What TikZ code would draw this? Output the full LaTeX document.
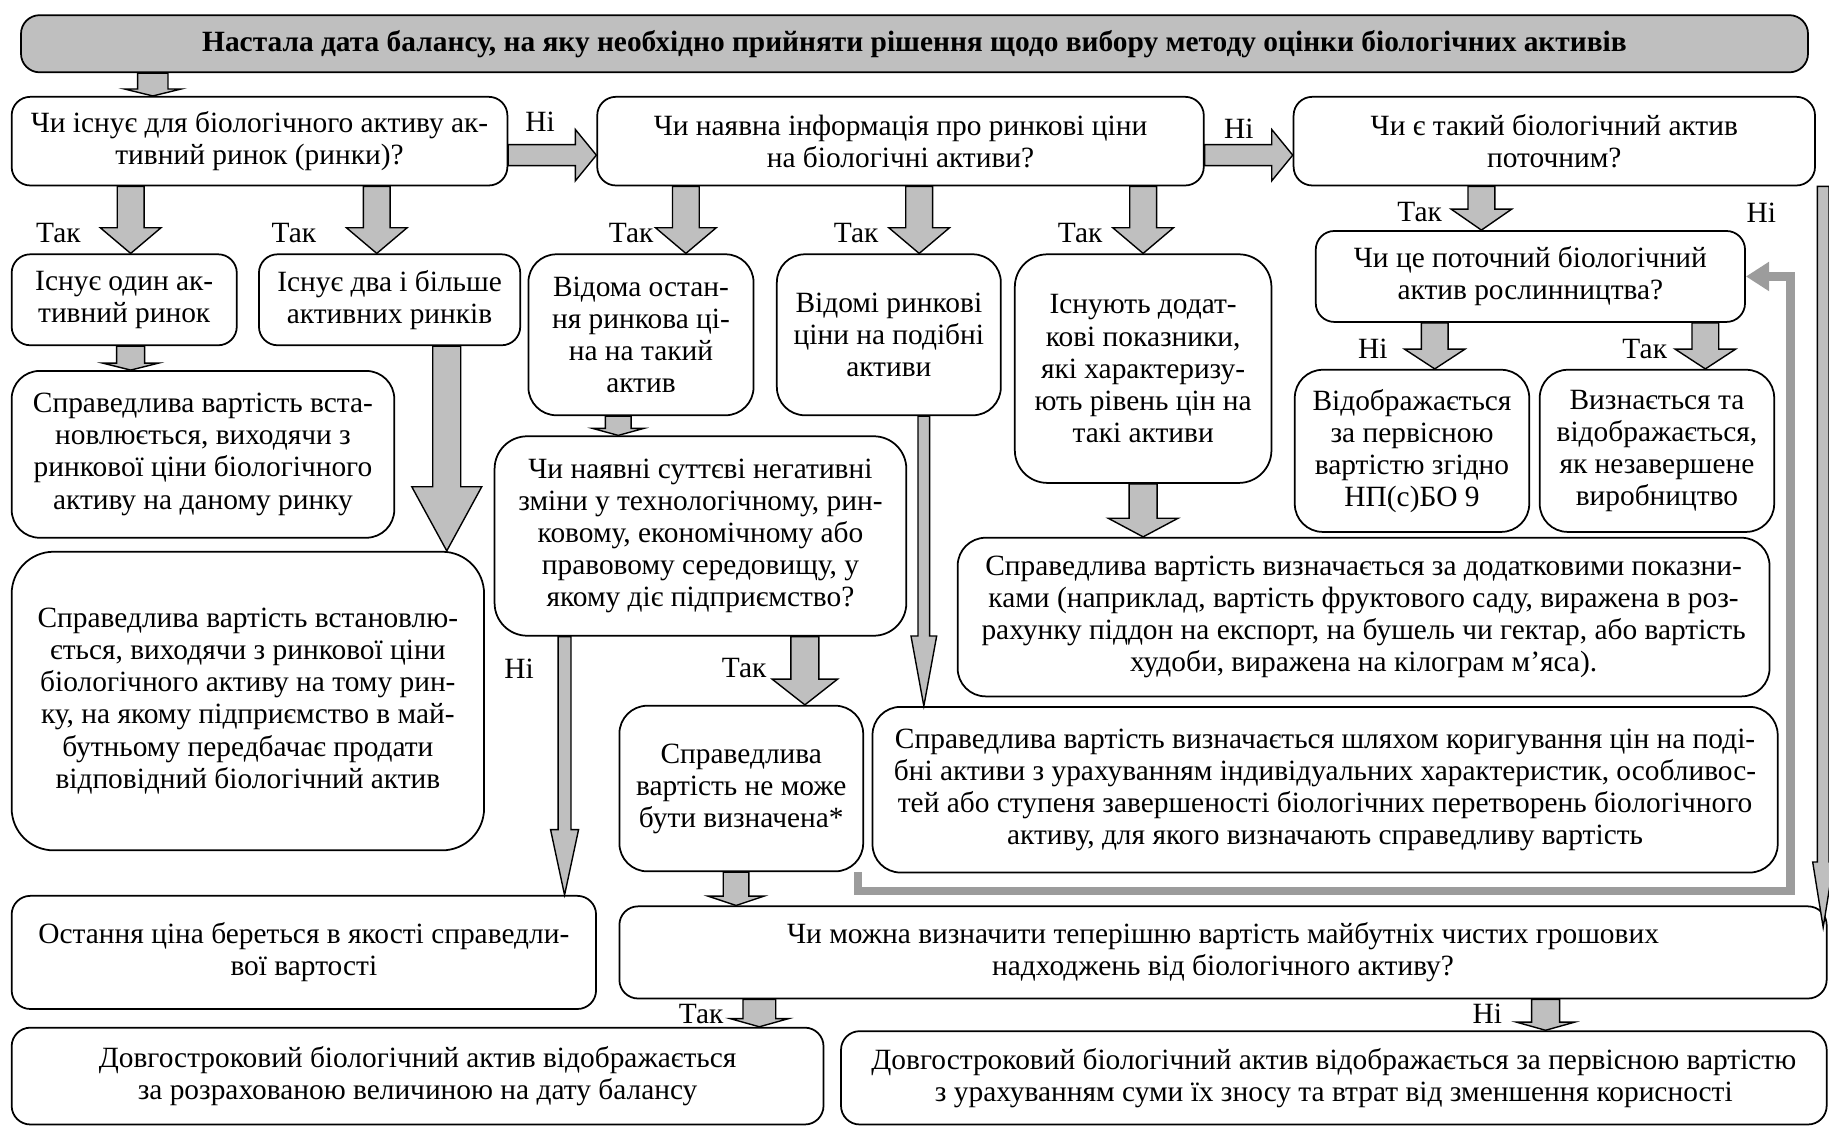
\documentclass[tikz,border=0pt]{standalone}
\usepackage{fontspec}
\setmainfont{Liberation Serif}
\usetikzlibrary{calc,arrows.meta}
\definecolor{BAGray}{HTML}{BFBFBF}
\definecolor{BALoop}{HTML}{9C9C9C}

\newcommand{\blkdn}[5]{%
  \filldraw[blk] let \p1=#1, \p2=#2 in
    (\x1-#3,\y1) -- (\x1-#3,\y2+#5) -- (\x1-#4,\y2+#5) -- (\x1,\y2)
    -- (\x1+#4,\y2+#5) -- (\x1+#3,\y2+#5) -- (\x1+#3,\y1) -- cycle;}
\newcommand{\blkrt}[5]{%
  \filldraw[blk] let \p1=#1, \p2=#2 in
    (\x1,\y1+#3) -- (\x2-#5,\y1+#3) -- (\x2-#5,\y1+#4) -- (\x2,\y1)
    -- (\x2-#5,\y1-#4) -- (\x2-#5,\y1-#3) -- (\x1,\y1-#3) -- cycle;}

\begin{document}
\begin{tikzpicture}[x=0.5pt,y=-0.5pt,
  chbox/.style={draw, line width=0.75pt, rounded corners=8pt, fill=white, align=center,
    inner sep=0pt, font=\fontsize{12.6}{13.75}\selectfont},
  wh/.style 2 args={minimum width=#1*0.5pt, minimum height=#2*0.5pt},
  blk/.style={fill=BAGray, draw=black, line width=0.6pt},
  lbl/.style={font=\fontsize{12.6}{13.75}\selectfont, inner sep=0pt},
  loopln/.style={draw=BALoop, line width=3.5pt, -{Triangle[width=12pt,length=10pt]}}]
\useasboundingbox (0,0) rectangle (1568,965);

\node[chbox, wh={1532}{49}, fill=BAGray, font=\fontsize{12.6}{13.75}\selectfont\bfseries] (title) at (784,37.5)
  {Настала дата балансу, на яку необхідно прийняти рішення щодо вибору методу оцінки біологічних активів};
\node[chbox, wh={425}{76}] (q1) at (222.5,121) {Чи існує для біологічного активу ак-\\тивний ринок (ринки)?};
\node[chbox, wh={520}{76}] (q2) at (772,121) {Чи наявна інформація про ринкові ціни\\на біологічні активи?};
\node[chbox, wh={447}{76}] (q3) at (1332.5,121) {Чи є такий біологічний актив\\поточним?};
\node[chbox, wh={193}{78}] (b1) at (106.5,257) {Існує один ак-\\тивний ринок};
\node[chbox, wh={224}{78}] (b2) at (334,257) {Існує два і більше\\активних ринків};
\node[chbox, wh={193}{138}, rounded corners=12pt] (b3) at (549.5,287) {Відома остан-\\ня ринкова ці-\\на на такий\\актив};
\node[chbox, wh={192}{138}, rounded corners=12pt] (b4) at (762,287) {Відомі ринкові\\ціни на подібні\\активи};
\node[chbox, wh={220}{196}, rounded corners=14pt] (b5) at (980,316) {Існують додат-\\кові показники,\\які характеризу-\\ють рівень цін на\\такі активи};
\node[chbox, wh={368}{78}] (q4) at (1312,237) {Чи це поточний біологічний\\актив рослинництва?};
\node[chbox, wh={201}{139}, rounded corners=12pt] (b6) at (1210.5,386.5) {Відображається\\за первісною\\вартістю згідно\\НП(с)БО 9};
\node[chbox, wh={201}{139}, rounded corners=12pt] (b7) at (1420.5,386.5) {Визнається та\\відображається,\\як незавершене\\виробництво};
\node[chbox, wh={328}{143}, rounded corners=12pt] (b8) at (174,389.5) {Справедлива вартість вста-\\новлюється, виходячи з\\ринкової ціни біологічного\\активу на даному ринку};
\node[chbox, wh={405}{256}, rounded corners=18pt] (b9) at (212.5,601) {Справедлива вартість встановлю-\\ється, виходячи з ринкової ціни\\біологічного активу на тому рин-\\ку, на якому підприємство в май-\\бутньому передбачає продати\\відповідний біологічний актив};
\node[chbox, wh={353}{171}, rounded corners=14pt] (q5) at (600.5,459.5) {Чи наявні суттєві негативні\\зміни у технологічному, рин-\\ковому, економічному або\\правовому середовищу, у\\якому діє підприємство?};
\node[chbox, wh={696}{136}, rounded corners=12pt] (b10) at (1169,529) {Справедлива вартість визначається за додатковими показни-\\ками (наприклад, вартість фруктового саду, виражена в роз-\\рахунку піддон на експорт, на бушель чи гектар, або вартість\\худоби, виражена на кілограм м’яса).};
\node[chbox, wh={209}{142}, rounded corners=12pt] (b11) at (635.5,676) {Справедлива\\вартість не може\\бути визначена*};
\node[chbox, wh={776}{142}, rounded corners=12pt] (b12) at (1136,677) {Справедлива вартість визначається шляхом коригування цін на поді-\\бні активи з урахуванням індивідуальних характеристик, особливос-\\тей або ступеня завершеності біологічних перетворень біологічного\\активу, для якого визначають справедливу вартість};
\node[chbox, wh={501}{97}] (b13) at (260.5,816.5) {Остання ціна береться в якості справедли-\\вої вартості};
\node[chbox, wh={1035}{79}] (q6) at (1048.5,816.5) {Чи можна визначити теперішню вартість майбутніх чистих грошових\\надходжень від біологічного активу?};
\node[chbox, wh={696}{83}] (b14) at (358,922.5) {Довгостроковий біологічний актив відображається\\за розрахованою величиною на дату балансу};
\node[chbox, wh={845}{80}] (b15) at (1143.5,924) {Довгостроковий біологічний актив відображається за первісною вартістю\\з урахуванням суми їх зносу та втрат від зменшення корисності};

\foreach \n/\x in {t0/131, k1/112, k2/323, k2b/383, k3/588, k3b/530, k4/788, k4b/792, k5/980,
  k6/1270, k7/1230, k8/1462, k9/484, k10/690, k11/631, k12/651, k13/1325, k14/1563}
  \coordinate (\n) at (\x,0);
\coordinate (r1) at (0,133);
\coordinate (rtip) at (1563,795);
\coordinate (lpc) at (1535,764);

\blkdn{(title.south -| t0)}{(q1.north -| t0)}{6.5pt}{12.25pt}{3pt}
\blkrt{(q1.east |- r1)}{(q2.west |- r1)}{4.5pt}{11pt}{9pt}
\blkrt{(q2.east |- r1)}{(q3.west |- r1)}{4.5pt}{11pt}{9pt}
\blkdn{(q1.south -| k1)}{(b1.north -| k1)}{5.75pt}{13pt}{11pt}
\blkdn{(q1.south -| k2)}{(b2.north -| k2)}{5.75pt}{13pt}{11pt}
\blkdn{(q2.south -| k3)}{(b3.north -| k3)}{5.75pt}{13pt}{11pt}
\blkdn{(q2.south -| k4)}{(b4.north -| k4)}{5.75pt}{13pt}{11pt}
\blkdn{(q2.south -| k5)}{(b5.north -| k5)}{5.75pt}{13pt}{11pt}
\blkdn{(q3.south -| k6)}{(q4.north -| k6)}{5.75pt}{13pt}{9pt}
\blkdn{(q4.south -| k7)}{(b6.north -| k7)}{5.75pt}{13pt}{8.5pt}
\blkdn{(q4.south -| k8)}{(b7.north -| k8)}{5.75pt}{13pt}{8.5pt}
\blkdn{(b1.south -| k1)}{(b8.north -| k1)}{6pt}{12pt}{3pt}
\blkdn{(b2.south -| k2b)}{(b9.north -| k2b)}{6pt}{15pt}{27.5pt}
\blkdn{(b3.south -| k3b)}{(q5.north -| k3b)}{5.5pt}{11pt}{3pt}
\blkdn{(b5.south -| k5)}{(b10.north -| k5)}{6pt}{15pt}{8pt}
\blkdn{(q5.south -| k10)}{(b11.north -| k10)}{6pt}{14pt}{11pt}
\blkdn{(b11.south -| k11)}{(q6.north -| k11)}{5.5pt}{12pt}{4pt}
\blkdn{(q6.south -| k12)}{(b14.north -| k12)}{7pt}{12.5pt}{3.5pt}
\blkdn{(q6.south -| k13)}{(b15.north -| k13)}{6pt}{12.5pt}{3.5pt}
\blkdn{(q5.south -| k9)}{(b13.north -| k9)}{2.75pt}{6pt}{28pt}
\blkdn{(b4.south -| k4b)}{(b12.north -| k4b)}{2.5pt}{5.5pt}{30pt}
\blkdn{(q3.south -| k14)}{(rtip)}{2.5pt}{4.5pt}{28pt}

\draw[loopln] ([xshift=-2.5pt]b11.south east) |- (lpc) |- (q4.east);

\node[lbl] (n1) at (463,104) {Ні};
\node[lbl] (n2) at (1062,110) {Ні};
\node[lbl] (y1) at (50,200) {Так};
\node[lbl] (y2) at (252,200) {Так};
\node[lbl] (y3) at (541,200) {Так};
\node[lbl] (y4) at (734,200) {Так};
\node[lbl] (y5) at (926,200) {Так};
\node[lbl] (y6) at (1217,182) {Так};
\node[lbl] (n3) at (1510,182) {Ні};
\node[lbl] (n4) at (1177,299) {Ні};
\node[lbl] (y7) at (1410,299) {Так};
\node[lbl] (n5) at (445,573) {Ні};
\node[lbl] (y8) at (638,573) {Так};
\node[lbl] (y9) at (601,869) {Так};
\node[lbl] (n6) at (1275,869) {Ні};
\end{tikzpicture}
\end{document}
